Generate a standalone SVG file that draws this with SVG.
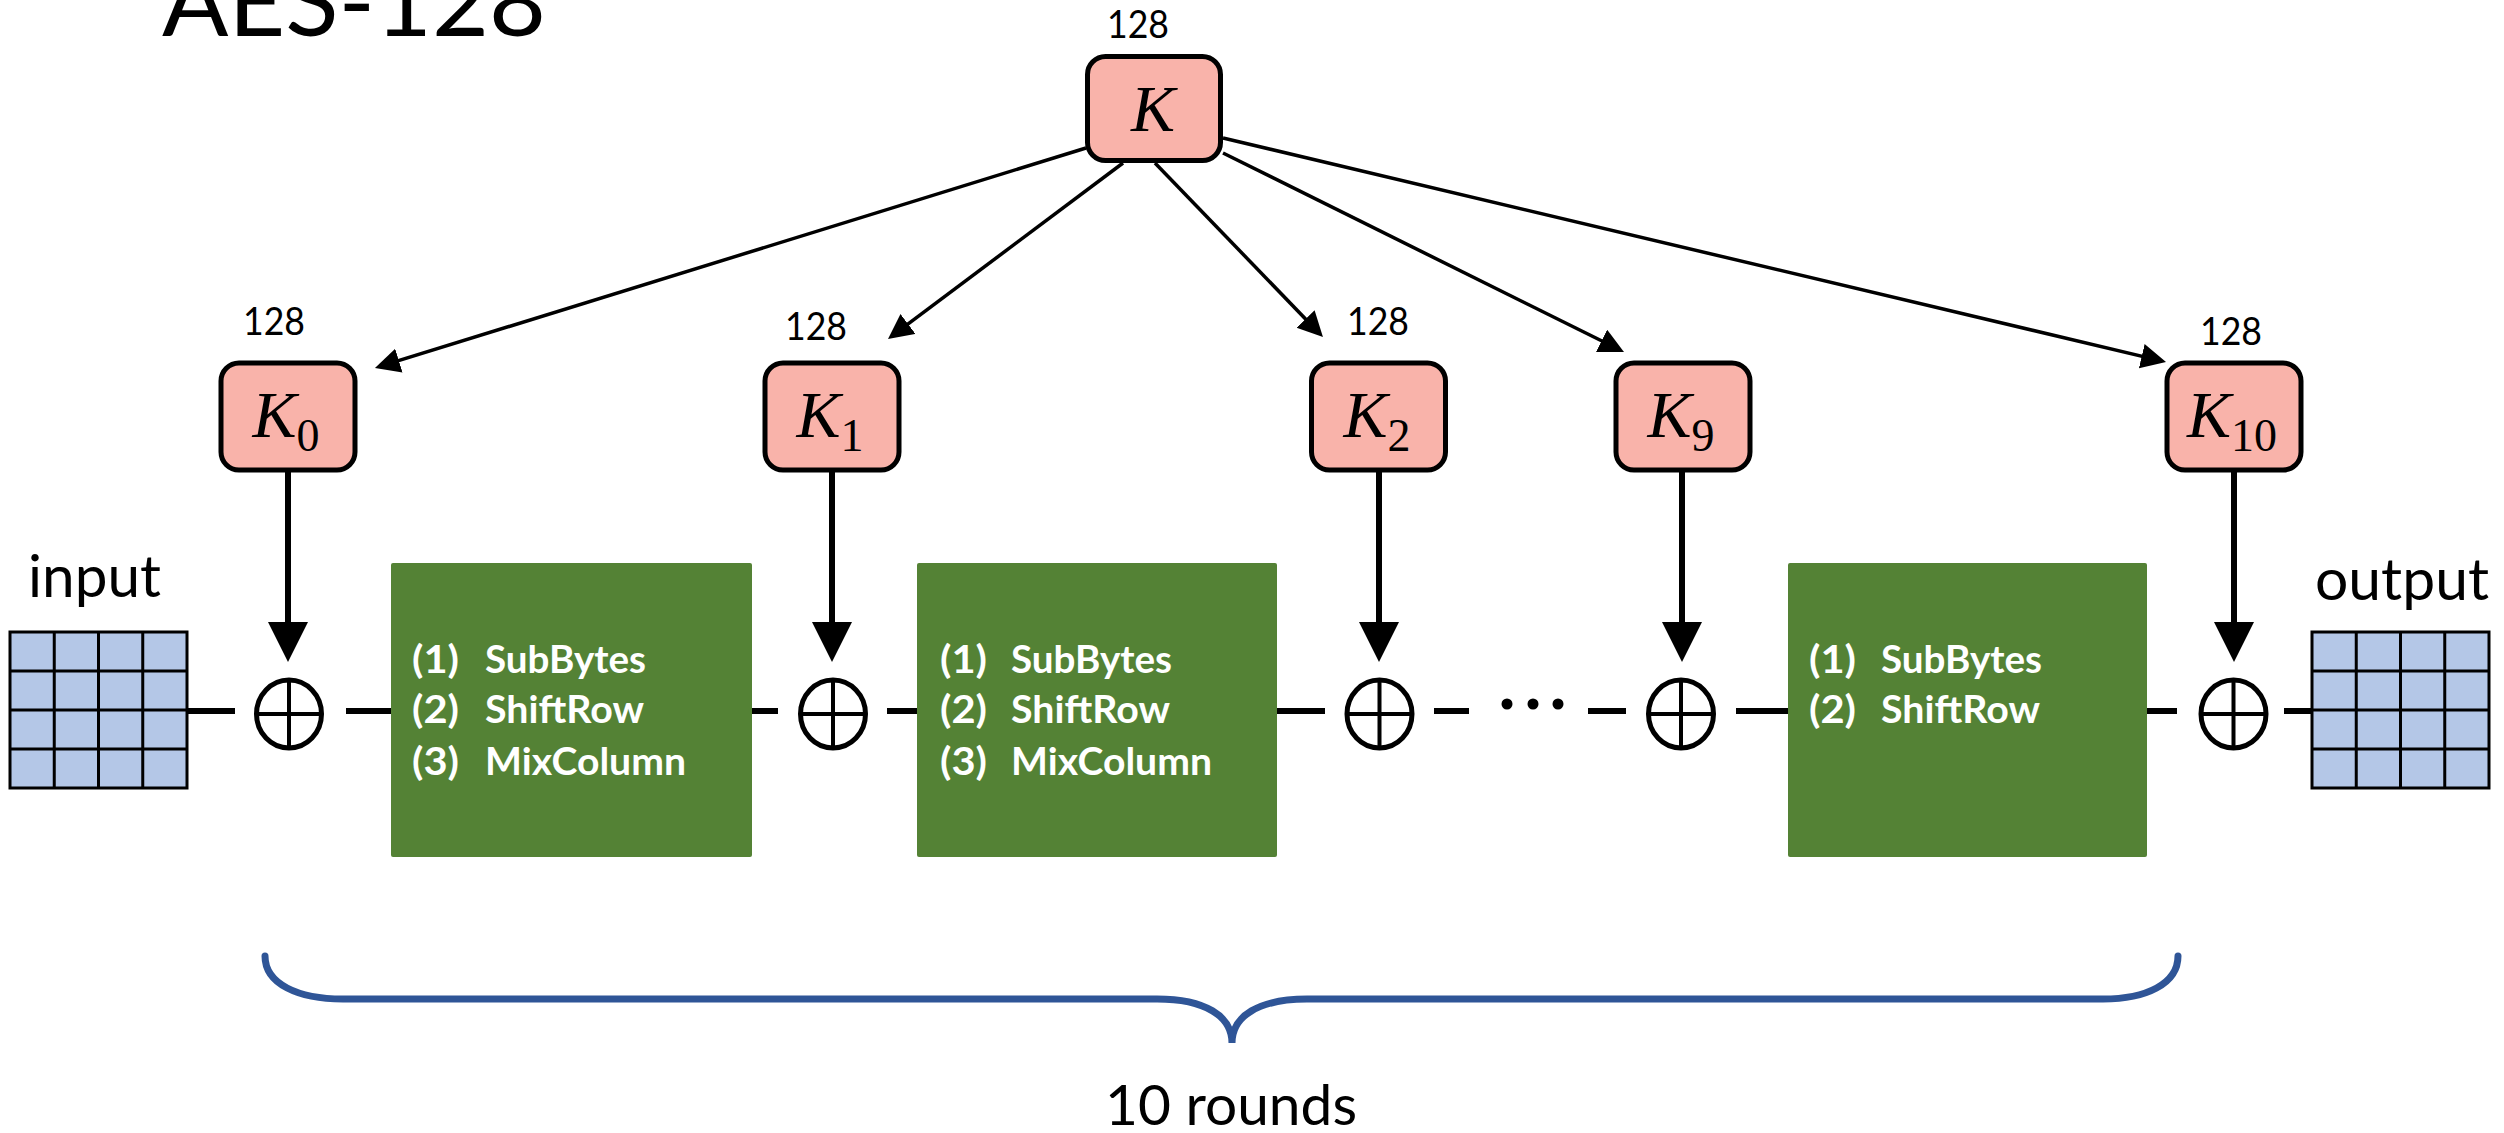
<svg xmlns="http://www.w3.org/2000/svg" width="2504" height="1133" viewBox="0 0 2504 1133">
<style>
  .lbl { font-family: Lato, "Liberation Sans", sans-serif; fill: #000; }
  .title { font-family: Lato, "Liberation Sans", sans-serif; font-weight: 400; font-size: 96px; fill: #000; }
  .bits { font-family: Lato, "Liberation Sans", sans-serif; font-size: 39px; fill: #000; text-anchor: middle; }
  .kbox { fill: #F9B3AA; stroke: #000; stroke-width: 5; }
  .klab { font-family: "Liberation Serif", "DejaVu Serif", serif; font-style: italic; font-size: 66px; fill: #000; text-anchor: middle; }
  .ksub { font-style: normal; font-size: 46px; }
  .round { fill: #548235; }
  .step { font-family: Lato, "Liberation Sans", sans-serif; font-weight: 700; font-size: 38px; fill: #fff; }
  .grid { fill: #B4C7E7; stroke: #000; stroke-width: 3; }
  .gline { stroke: #000; stroke-width: 3; fill: none; }
  .xor { fill: #fff; stroke: #000; stroke-width: 5; }
  .xorx { stroke: #000; stroke-width: 4; }
  .wire { stroke: #000; stroke-width: 6; fill: none; }
  .thin { stroke: #000; stroke-width: 3.5; fill: none; marker-end: url(#headSmall); }
  .thick { stroke: #000; stroke-width: 6; fill: none; marker-end: url(#headBig); }
  .brace { stroke: #2F5597; stroke-width: 7; fill: none; stroke-linecap: round; }
</style>
<defs>
  <marker id="headSmall" markerUnits="userSpaceOnUse" markerWidth="26" markerHeight="26" refX="19" refY="12.5" orient="auto">
    <path d="M0,0 L25,12.5 L0,25 Z" fill="#000"/>
  </marker>
  <marker id="headBig" markerUnits="userSpaceOnUse" markerWidth="41" markerHeight="41" refX="30" refY="20" orient="auto">
    <path d="M0,0 L40,20 L0,40 Z" fill="#000"/>
  </marker>
</defs>

<rect width="2504" height="1133" fill="#fff"/>

<text class="title" x="162" y="36" textLength="384" lengthAdjust="spacingAndGlyphs">AES-128</text>

<g id="connectors">
  <!-- key schedule -->
  <line class="thin" x1="1086" y1="148" x2="380.7" y2="366.2"/>
  <line class="thin" x1="1123" y1="163" x2="892.8" y2="335.4"/>
  <line class="thin" x1="1155" y1="163" x2="1318.8" y2="332.7"/>
  <line class="thin" x1="1223" y1="153" x2="1618.6" y2="349.3"/>
  <line class="thin" x1="1223" y1="138" x2="2160.2" y2="360.6"/>
  <!-- round keys to XOR -->
  <line class="thick" x1="288" y1="472" x2="288" y2="652"/>
  <line class="thick" x1="832" y1="472" x2="832" y2="652"/>
  <line class="thick" x1="1379" y1="472" x2="1379" y2="652"/>
  <line class="thick" x1="1682" y1="472" x2="1682" y2="652"/>
  <line class="thick" x1="2234" y1="472" x2="2234" y2="652"/>
  <!-- data path -->
  <line class="wire" x1="187" y1="711" x2="235" y2="711"/>
  <line class="wire" x1="346" y1="711" x2="392" y2="711"/>
  <line class="wire" x1="751" y1="711" x2="778" y2="711"/>
  <line class="wire" x1="887" y1="711" x2="918" y2="711"/>
  <line class="wire" x1="1276" y1="711" x2="1325" y2="711"/>
  <line class="wire" x1="1434" y1="711" x2="1469" y2="711"/>
  <line class="wire" x1="1588" y1="711" x2="1626" y2="711"/>
  <line class="wire" x1="1736" y1="711" x2="1789" y2="711"/>
  <line class="wire" x1="2146" y1="711" x2="2177" y2="711"/>
  <line class="wire" x1="2284" y1="711" x2="2312" y2="711"/>
</g>

<g id="dots">
  <circle cx="1507" cy="704" r="5.5" fill="#000"/>
  <circle cx="1533" cy="704" r="5.5" fill="#000"/>
  <circle cx="1558" cy="704" r="5.5" fill="#000"/>
</g>

<g id="key-K">
  <text class="bits" x="1138" y="38" textLength="62" lengthAdjust="spacingAndGlyphs">128</text>
  <rect class="kbox" x="1087.5" y="56.5" width="133" height="104" rx="18"/>
  <text class="klab" x="1153" y="131">K</text>
</g>

<g id="key-K0">
  <text class="bits" x="274" y="335" textLength="62" lengthAdjust="spacingAndGlyphs">128</text>
  <rect class="kbox" x="221" y="363" width="134" height="107" rx="18"/>
  <text class="klab" x="286" y="437">K<tspan class="ksub" dy="14">0</tspan></text>
</g>
<g id="key-K1">
  <text class="bits" x="816" y="340" textLength="62" lengthAdjust="spacingAndGlyphs">128</text>
  <rect class="kbox" x="765" y="363" width="134" height="107" rx="18"/>
  <text class="klab" x="830" y="437">K<tspan class="ksub" dy="14">1</tspan></text>
</g>
<g id="key-K2">
  <text class="bits" x="1378" y="335" textLength="62" lengthAdjust="spacingAndGlyphs">128</text>
  <rect class="kbox" x="1311.5" y="363" width="134" height="107" rx="18"/>
  <text class="klab" x="1377" y="437">K<tspan class="ksub" dy="14">2</tspan></text>
</g>
<g id="key-K9">
  <rect class="kbox" x="1616" y="363" width="134" height="107" rx="18"/>
  <text class="klab" x="1681" y="437">K<tspan class="ksub" dy="14">9</tspan></text>
</g>
<g id="key-K10">
  <text class="bits" x="2231" y="345" textLength="62" lengthAdjust="spacingAndGlyphs">128</text>
  <rect class="kbox" x="2167" y="363" width="134" height="107" rx="18"/>
  <text class="klab" x="2232" y="437">K<tspan class="ksub" dy="14">10</tspan></text>
</g>

<g id="input">
  <text class="lbl" x="28" y="597" font-size="58" textLength="133" lengthAdjust="spacingAndGlyphs">input</text>
  <rect class="grid" x="10" y="632" width="177" height="156"/>
  <path class="gline" d="M54.25,632 V788 M98.5,632 V788 M142.75,632 V788 M10,671 H187 M10,710 H187 M10,749 H187"/>
</g>

<g id="output">
  <text class="lbl" x="2315" y="600" font-size="58" textLength="174" lengthAdjust="spacingAndGlyphs">output</text>
  <rect class="grid" x="2312" y="632" width="177" height="156"/>
  <path class="gline" d="M2356.25,632 V788 M2400.5,632 V788 M2444.75,632 V788 M2312,671 H2489 M2312,710 H2489 M2312,749 H2489"/>
</g>

<g id="xor0">
  <ellipse class="xor" cx="289" cy="714" rx="32.5" ry="34"/>
  <path class="xorx" d="M289,680 V748 M256.5,714 H321.5"/>
</g>
<g id="xor1">
  <ellipse class="xor" cx="833" cy="714" rx="32.5" ry="34"/>
  <path class="xorx" d="M833,680 V748 M800.5,714 H865.5"/>
</g>
<g id="xor2">
  <ellipse class="xor" cx="1379.5" cy="714" rx="32.5" ry="34"/>
  <path class="xorx" d="M1379.5,680 V748 M1347,714 H1412"/>
</g>
<g id="xor9">
  <ellipse class="xor" cx="1681" cy="714" rx="32.5" ry="34"/>
  <path class="xorx" d="M1681,680 V748 M1648.5,714 H1713.5"/>
</g>
<g id="xor10">
  <ellipse class="xor" cx="2233.5" cy="714" rx="32.5" ry="34"/>
  <path class="xorx" d="M2233.5,680 V748 M2201,714 H2266"/>
</g>

<g id="round1">
  <rect class="round" x="391" y="563" width="361" height="294" rx="2"/>
  <text class="step" x="412" y="673" textLength="47" lengthAdjust="spacingAndGlyphs">(1)</text>
  <text class="step" x="485" y="673" textLength="161" lengthAdjust="spacingAndGlyphs">SubBytes</text>
  <text class="step" x="412" y="723" textLength="47" lengthAdjust="spacingAndGlyphs">(2)</text>
  <text class="step" x="485" y="723" textLength="159" lengthAdjust="spacingAndGlyphs">ShiftRow</text>
  <text class="step" x="412" y="775" textLength="47" lengthAdjust="spacingAndGlyphs">(3)</text>
  <text class="step" x="485" y="775" textLength="201" lengthAdjust="spacingAndGlyphs">MixColumn</text>
</g>
<g id="round2">
  <rect class="round" x="917" y="563" width="360" height="294" rx="2"/>
  <text class="step" x="940" y="673" textLength="47" lengthAdjust="spacingAndGlyphs">(1)</text>
  <text class="step" x="1011" y="673" textLength="161" lengthAdjust="spacingAndGlyphs">SubBytes</text>
  <text class="step" x="940" y="723" textLength="47" lengthAdjust="spacingAndGlyphs">(2)</text>
  <text class="step" x="1011" y="723" textLength="159" lengthAdjust="spacingAndGlyphs">ShiftRow</text>
  <text class="step" x="940" y="775" textLength="47" lengthAdjust="spacingAndGlyphs">(3)</text>
  <text class="step" x="1011" y="775" textLength="201" lengthAdjust="spacingAndGlyphs">MixColumn</text>
</g>
<g id="round10">
  <rect class="round" x="1788" y="563" width="359" height="294" rx="2"/>
  <text class="step" x="1809" y="673" textLength="47" lengthAdjust="spacingAndGlyphs">(1)</text>
  <text class="step" x="1881" y="673" textLength="161" lengthAdjust="spacingAndGlyphs">SubBytes</text>
  <text class="step" x="1809" y="723" textLength="47" lengthAdjust="spacingAndGlyphs">(2)</text>
  <text class="step" x="1881" y="723" textLength="159" lengthAdjust="spacingAndGlyphs">ShiftRow</text>
</g>

<g id="rounds-brace">
  <path class="brace" d="M265,956 C265,984 298,999 343,999 L1157,999 C1205,999 1232,1016 1232,1043 C1232,1016 1259,999 1307,999 L2103,999 C2146,999 2178,984 2178,956"/>
  <text class="lbl" x="1105" y="1125" font-size="56" textLength="252" lengthAdjust="spacingAndGlyphs">10 rounds</text>
</g>
</svg>
